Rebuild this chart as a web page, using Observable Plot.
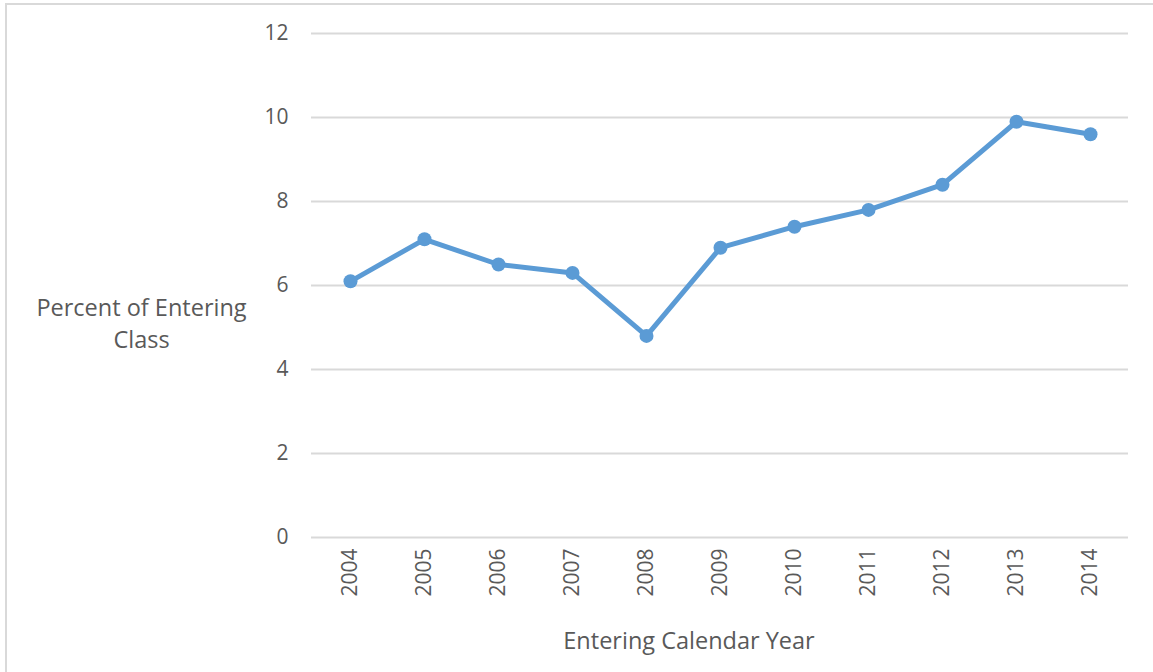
<!DOCTYPE html>
<html>
<head>
<meta charset="utf-8">
<script src="https://cdn.jsdelivr.net/npm/d3@7"></script>
<script src="https://cdn.jsdelivr.net/npm/@observablehq/plot@0.6"></script>
<style>
  html, body { margin: 0; padding: 0; background: #fff; overflow: hidden; }
  #wrap { position: relative; width: 1153px; height: 672px; }
  #border { position: absolute; left: 5px; top: 3px; width: 1160px; height: 680px; border: 2px solid #d9d9d9; box-sizing: border-box; }
  #chart { position: absolute; left: 0; top: 0; }
</style>
</head>
<body>
<div id="wrap"><div id="border"></div><div id="chart"></div></div>
<script>
const years = ["2004","2005","2006","2007","2008","2009","2010","2011","2012","2013","2014"];
const percents = [6.1, 7.1, 6.5, 6.3, 4.8, 6.9, 7.4, 7.8, 8.4, 9.9, 9.6];
const yTicks = [0, 2, 4, 6, 8, 10, 12];
const yTitle = "Percent of Entering\nClass";
const xTitle = "Entering Calendar Year";

const data = years.map((y, i) => ({year: y, value: percents[i]}));
const blue = "#5B9BD5";
const grey = "#595959";
const font = "'Open Sans', sans-serif";

const chart = Plot.plot({
  width: 1153,
  height: 672,
  marginLeft: 311,
  marginRight: 25,
  marginTop: 33,
  marginBottom: 135,
  style: {fontFamily: font, fontSize: "20px", color: grey, background: "transparent"},
  x: {type: "band", domain: years, padding: 0, label: null},
  y: {domain: [0, 12], label: null},
  marks: [
    Plot.gridY(yTicks, {stroke: "#d9d9d9", strokeOpacity: 1, strokeWidth: 2}),
    Plot.axisY(yTicks, {tickSize: 0, tickPadding: 23, fontSize: 21, fill: grey, label: null}),
    Plot.axisX({tickSize: 0, tickPadding: 11, tickRotate: -90, fontSize: 21, fill: grey, label: null}),
    Plot.line(data, {x: "year", y: "value", stroke: blue, strokeWidth: 5, strokeLinejoin: "round", strokeLinecap: "round"}),
    Plot.dot(data, {x: "year", y: "value", fill: blue, r: 7, stroke: "none"}),
    Plot.text([yTitle], {frameAnchor: "left", dx: -170, dy: 36, lineHeight: 1.4, fontSize: 23.5, fill: grey, textAnchor: "middle"}),
    Plot.text([xTitle], {frameAnchor: "bottom", dx: -31, dy: 104, fontSize: 23.5, fill: grey, textAnchor: "middle", lineAnchor: "middle"})
  ]
});
document.getElementById("chart").appendChild(chart);
</script>
</body>
</html>
